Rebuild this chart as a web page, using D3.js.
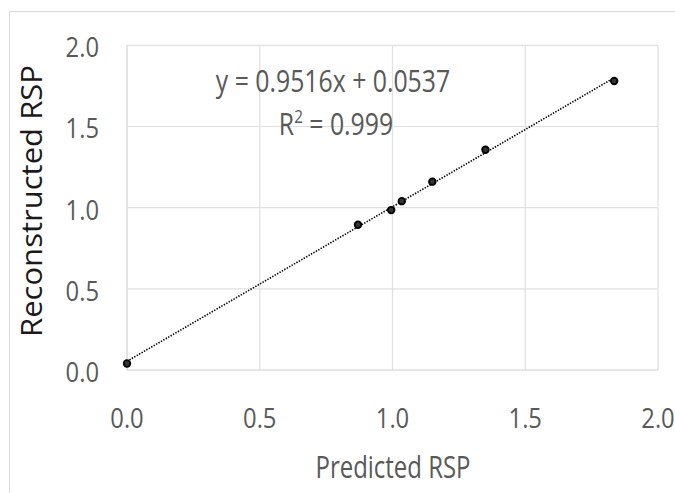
<!DOCTYPE html>
<html>
<head>
<meta charset="utf-8">
<script src="https://cdn.jsdelivr.net/npm/d3@7"></script>
<style>
  html, body { margin: 0; padding: 0; background: #fff; }
  svg { display: block; }
  text { font-family: "Open Sans", "Noto Sans", sans-serif; }
</style>
</head>
<body>
<svg id="chart" width="675" height="493"></svg>
<script>
// --- data -------------------------------------------------------------------
const predicted     = [0.0, 0.87, 0.995, 1.035, 1.15, 1.35, 1.835];
const reconstructed = [0.04, 0.895, 0.985, 1.04, 1.16, 1.357, 1.78];
const xTicks = [0, 0.5, 1.0, 1.5, 2.0];
const yTicks = [0, 0.5, 1.0, 1.5, 2.0];
const slope = 0.9516, intercept = 0.0537, r2 = 0.999;

// --- layout -----------------------------------------------------------------
const svg = d3.select('#chart');
const plot = {left: 127, right: 658, top: 45.3, bottom: 370};

const x = d3.scaleLinear().domain([0, 2]).range([plot.left, plot.right]);
const y = d3.scaleLinear().domain([0, 2]).range([plot.bottom, plot.top]);

// outer chart frame (only top/left edges visible in the crop)
svg.append('rect')
  .attr('x', 9.5).attr('y', 11.5).attr('width', 720).attr('height', 520)
  .attr('fill', 'none').attr('stroke', '#d9d9d9').attr('stroke-width', 1);

// gridlines
const grid = svg.append('g').attr('stroke', '#e0e0e0').attr('stroke-width', 1.2);
grid.selectAll('line.gx').data(xTicks).join('line')
  .attr('x1', d => x(d)).attr('x2', d => x(d))
  .attr('y1', plot.top).attr('y2', plot.bottom)
  .attr('stroke', d => d === 0 ? '#d0d0d0' : null);
grid.selectAll('line.gy').data(yTicks).join('line')
  .attr('y1', d => y(d)).attr('y2', d => y(d))
  .attr('x1', plot.left).attr('x2', plot.right)
  .attr('stroke', d => d === 0 ? '#d0d0d0' : null);

// tick labels (narrow, light look)
const fmt = d3.format('.1f');
svg.append('g').selectAll('text').data(yTicks).join('text')
  .attr('transform', d => `translate(99,${y(d) + 12}) scale(0.88,1)`)
  .attr('text-anchor', 'end')
  .attr('font-size', 27).attr('fill', '#595959')
  .text(fmt);
svg.append('g').selectAll('text').data(xTicks).join('text')
  .attr('transform', d => `translate(${x(d)},428) scale(0.88,1)`)
  .attr('text-anchor', 'middle')
  .attr('font-size', 27).attr('fill', '#595959')
  .text(fmt);

// axis titles
svg.append('text')
  .attr('transform', 'translate(41.5,201) rotate(-90)')
  .attr('text-anchor', 'middle')
  .attr('font-size', 29).attr('fill', '#1a1a1a')
  .attr('textLength', 272).attr('lengthAdjust', 'spacingAndGlyphs')
  .text('Reconstructed RSP');
svg.append('text')
  .attr('transform', 'translate(393,478) scale(0.76,1)')
  .attr('text-anchor', 'middle')
  .attr('font-size', 31.5).attr('fill', '#595959')
  .text('Predicted RSP');

// trendline (linear fit, dotted)
const xMax = d3.max(predicted);
svg.append('line')
  .attr('x1', x(0)).attr('y1', y(intercept))
  .attr('x2', x(xMax)).attr('y2', y(slope * xMax + intercept))
  .attr('stroke', '#000').attr('stroke-width', 1.6)
  .attr('stroke-dasharray', '1.4,1.4');

// points
svg.append('g').selectAll('circle').data(predicted.map((p, i) => [p, reconstructed[i]]))
  .join('circle')
  .attr('cx', d => x(d[0])).attr('cy', d => y(d[1]))
  .attr('r', 3.3)
  .attr('fill', '#333').attr('stroke', '#000').attr('stroke-width', 1.8);

// equation label
const eq = svg.append('g').attr('fill', '#595959').attr('font-size', 31);
eq.append('text')
  .attr('transform', 'translate(333,91.5) scale(0.8,1)')
  .attr('text-anchor', 'middle')
  .text(`y = ${slope}x + ${intercept}`);
const r2t = eq.append('text')
  .attr('transform', 'translate(336,135) scale(0.8,1)')
  .attr('text-anchor', 'middle');
r2t.append('tspan').text('R');
r2t.append('tspan').attr('font-size', 19).attr('dy', -12).text('2');
r2t.append('tspan').attr('dy', 12).text(` = ${r2}`);
</script>
</body>
</html>
